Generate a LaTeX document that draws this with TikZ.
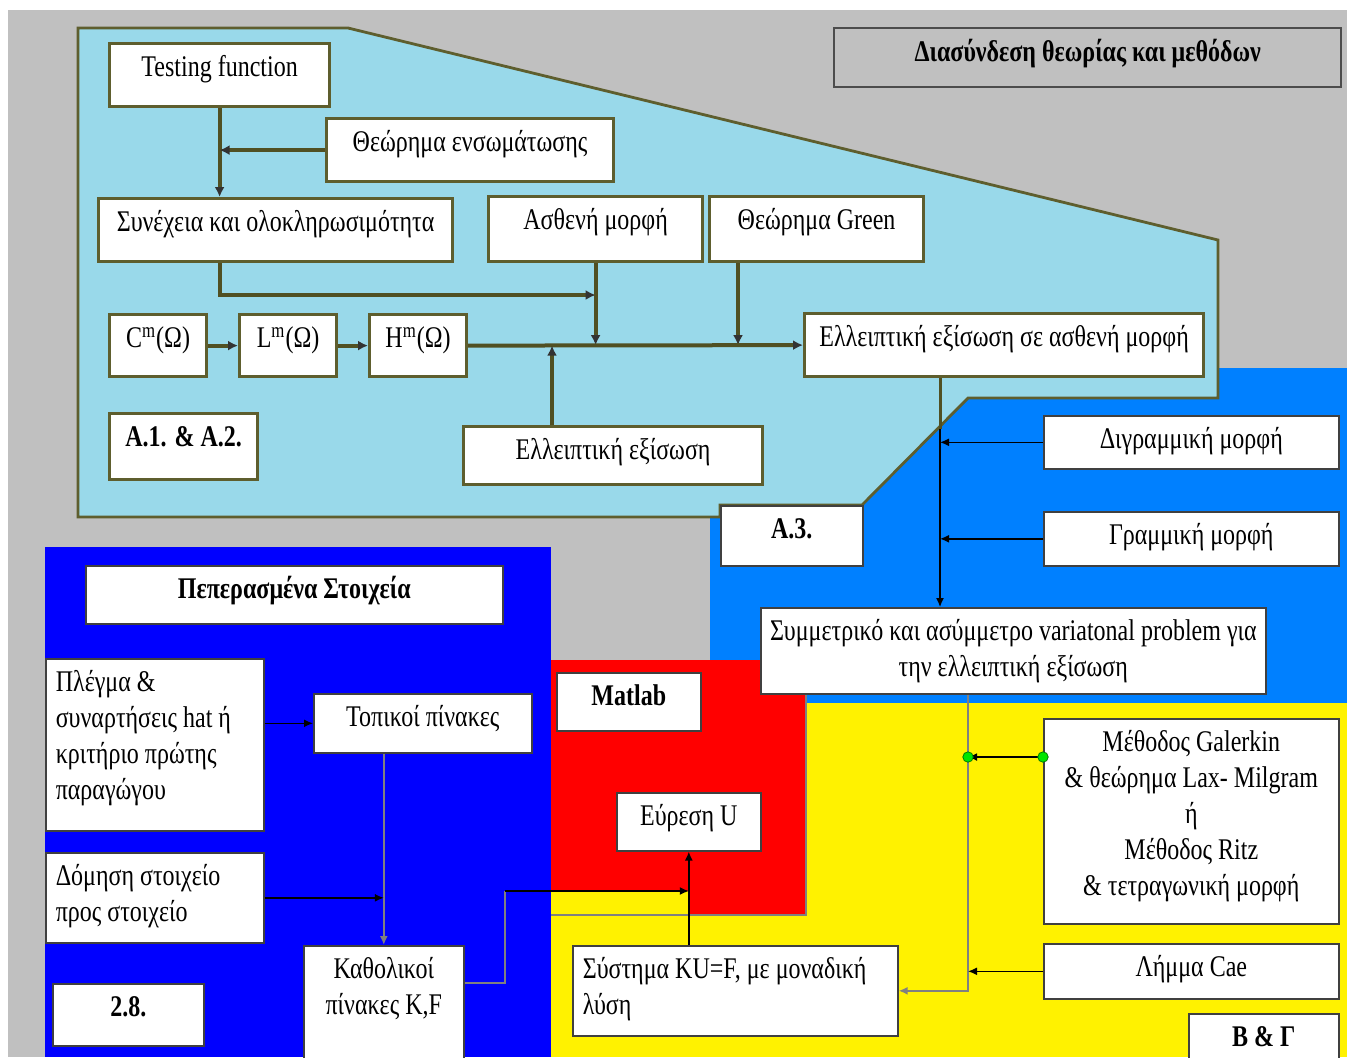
\documentclass[tikz,border=0pt]{standalone}
\usepackage{fontspec}
\setmainfont{Liberation Serif}[FakeStretch=0.8]
\usetikzlibrary{arrows.meta}
\definecolor{bggrey}{RGB}{192,192,192}
\definecolor{lightsky}{RGB}{153,217,234}
\definecolor{brightblue}{RGB}{0,128,255}
\definecolor{olivebrd}{RGB}{94,94,46}
\definecolor{olivelink}{RGB}{80,80,35}
\definecolor{greendot}{RGB}{0,230,0}
\begin{document}
\begin{tikzpicture}[x=0.5pt, y=-0.5pt,
    box/.style 2 args={draw=black!75, line width=0.8pt, fill=white, anchor=north west,
      inner xsep=-10pt, inner ysep=0pt, align=flush center,
      text width=#1*0.5pt+20pt, text height=16.5pt, text depth=#2*0.5pt-16.5pt,
      font=\fontsize{15pt}{18pt}\selectfont},
    lbox/.style 2 args={box={#1}{#2}, align=flush left, inner xsep=5pt, text width=#1*0.5pt-10pt},
    obox/.style 2 args={box={#1}{#2}, draw=olivebrd, line width=1.6pt},
    bbox/.style 2 args={box={#1}{#2}, font=\fontsize{15pt}{18pt}\selectfont\bfseries},
    thk/.style={draw=olivelink, line width=2pt, -{Latex[length=5pt,width=5pt,color=black!80]}},
    thn/.style={draw=black, line width=0.7pt, -{Latex[length=4.5pt,width=4pt]}},
    gry/.style={draw=black!50, line width=0.9pt, -{Latex[length=4.5pt,width=4pt]}},
    dot/.style={fill=greendot, draw=green!50!black, line width=0.4pt}]
  \useasboundingbox (0,0) rectangle (1347,1057);
  \fill[white] (0,0) rectangle (1347,1057);
  \fill[bggrey] (8,10) rectangle (1347,1057);
  \fill[brightblue] (710,368) rectangle (1347,703);
  \filldraw[fill=lightsky, draw=olivebrd, line width=1.4pt] (78,28) -- (348,28) -- (1218,240) -- (1218,398)
    -- (968,398) -- (862,505) -- (720,505) -- (720,517) -- (78,517) -- cycle;
  \fill[blue] (45,547) rectangle (551,1057);
  \fill[yellow] (551,703) rectangle (1347,1057);
  \fill[red] (551,660) -- (806,660) -- (806,915) -- (688,915) -- (688,891) -- (551,891) -- cycle;
  \draw[black!50, line width=0.8pt] (806,660) -- (806,915) -- (551,915);

  \node[bbox={507}{59}, fill=bggrey, draw=black!70, line width=1.2pt] (title) at (833,27) {Διασύνδεση θεωρίας και μεθόδων};

  \node[obox={220}{63}] (tf) at (108,42) {Testing function};
  \node[obox={287}{63}] (emb) at (325,117) {Θεώρημα ενσωμάτωσης};
  \node[obox={354}{63}] (cont) at (97,197) {Συνέχεια και ολοκληρωσιμότητα};
  \node[obox={214}{65}] (weak) at (487,195) {Ασθενή μορφή};
  \node[obox={214}{65}] (green) at (708,195) {Θεώρημα Green};
  \node[obox={97}{62}] (cm) at (108,313) {C\textsuperscript{m}(Ω)};
  \node[obox={97}{62}] (lm) at (238,313) {L\textsuperscript{m}(Ω)};
  \node[obox={97}{62}] (hm) at (368,313) {H\textsuperscript{m}(Ω)};
  \node[obox={399}{63}] (ellw) at (803,312) {Ελλειπτική εξίσωση σε ασθενή μορφή};
  \node[obox={148}{66}, font=\fontsize{15pt}{18pt}\selectfont\bfseries] (a12) at (108,412) {A.1. \& A.2.};
  \node[obox={299}{58}] (ell) at (462,425) {Ελλειπτική εξίσωση};

  \node[bbox={142}{60}] (a3) at (720,505) {A.3.};
  \node[box={295}{53}] (bil) at (1043,415) {Διγραμμική μορφή};
  \node[box={295}{54}] (lin) at (1043,511) {Γραμμική μορφή};
  \node[box={505}{86}] (symm) at (760,607) {Συμμετρικό και ασύμμετρο variatonal problem για\\την ελλειπτική εξίσωση};

  \node[bbox={417}{58}] (fem) at (85,565) {Πεπερασμένα Στοιχεία};
  \node[lbox={218}{172}] (mesh) at (45,658) {Πλέγμα \&\\συναρτήσεις hat ή\\κριτήριο πρώτης\\παραγώγου};
  \node[box={218}{59}] (loc) at (313,693) {Τοπικοί πίνακες};
  \node[lbox={218}{90}] (asm) at (45,852) {Δόμηση στοιχείο\\προς στοιχείο};
  \node[box={160}{120}] (glob) at (303,945) {Καθολικοί\\πίνακες K,F};
  \node[bbox={151}{62}] (s28) at (52,983) {2.8.};

  \node[bbox={144}{58}] (mat) at (556,672) {Matlab};
  \node[box={144}{58}] (findu) at (616,792) {Εύρεση U};

  \node[lbox={325}{90}] (kuf) at (572,945) {Σύστημα KU=F, με μοναδική\\λύση};
  \node[box={295}{205}] (gal) at (1043,718) {Μέθοδος Galerkin\\\& θεώρημα Lax- Milgram\\ή\\Μέθοδος Ritz\\\& τετραγωνική μορφή};
  \node[box={295}{55}] (cae) at (1043,943) {Λήμμα Cae};
  \node[bbox={150}{60}] (bg) at (1188,1013) {B \& Γ};

  \draw[thk] (tf.south) -- (tf.south |- cont.north);
  \draw[thk] (emb.west) -- (emb.west -| tf.south);
  \draw[thk] (cont.south -| tf.south) |- (weak.south |- 0,295);
  \draw[thk] (weak.south) -- (weak.south |- ellw.west);
  \coordinate (gdrop) at ([xshift=15pt]green.south west);
  \draw[thk] (gdrop) -- (gdrop |- ellw.west);
  \draw[thk] (cm.east) -- (lm.west);
  \draw[thk] (lm.east) -- (hm.west);
  \draw[thk] (hm.east) -- (ellw.west);
  \coordinate (eup) at ([xshift=45pt]ell.north west);
  \draw[thk] (eup) -- (eup |- hm.east);

  \coordinate (edown) at ([xshift=68.5pt]ellw.south west);
  \draw[thn] (edown) -- (edown |- symm.north);
  \draw[olivelink, line width=1.5pt] (edown) -- ([yshift=-25.5pt]edown);
  \draw[thn] (bil.west) -- (bil.west -| edown);
  \draw[thn] (lin.west) -- (lin.west -| edown);

  \coordinate (sdown) at ([xshift=104pt]symm.south west);
  \draw[gry] (sdown) |- (kuf.east);
  \coordinate (gout) at ([yshift=-19.5pt]gal.north west);
  \draw[thn, line width=1.2pt] (gout) -- (gout -| sdown);
  \fill[dot] (gout) circle[radius=2.6pt] (gout -| sdown) circle[radius=2.6pt];
  \draw[thn] (cae.west) -- (cae.west -| sdown);

  \draw[thn] (findu.south |- kuf.north) -- (findu.south);
  \coordinate (kout) at ([yshift=-19pt]glob.north east);
  \coordinate (kbend) at (505,891);
  \draw[gry, -] (kout) -| (kbend);
  \draw[thn] (kbend) -- (kbend -| findu.south);
  \draw[thn] (loc.west -| mesh.east) -- (loc.west);
  \draw[gry] (glob.north |- loc.south) -- (glob.north);
  \draw[thn] (asm.east) -- (asm.east -| glob.north);
\end{tikzpicture}
\end{document}
